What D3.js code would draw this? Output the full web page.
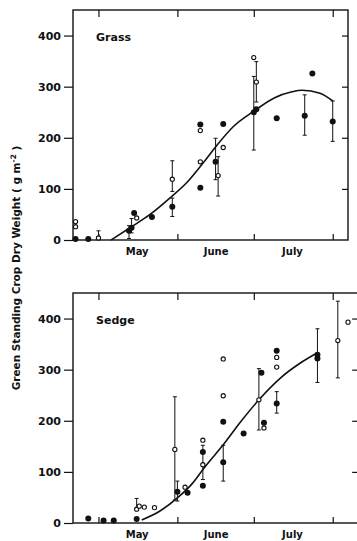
<!DOCTYPE html>
<html>
<head>
<meta charset="utf-8">
<script src="https://cdn.jsdelivr.net/npm/d3@7"></script>
<style>
  body { margin: 0; background: #fff; }
  svg text { font-family: "DejaVu Sans", sans-serif; font-weight: bold; fill: #111; }
</style>
</head>
<body>
<div id="chart"></div>
<script>
// ---------- data (dates as MM-DD, values g m-2) ----------
const yTicks = [0, 100, 200, 300, 400];
const monthBounds = ['05-01', '06-01', '07-01', '08-01'];
const monthLabels = ['May', 'June', 'July'];
const monthMids = ['05-16', '06-16', '07-16'];

const grassFilled = [
  { d: '04-22', v: 2 }, { d: '04-27', v: 2 },
  { d: '05-13', v: 18, lo: 3, hi: 28 }, { d: '05-14', v: 24, lo: 14, hi: 42 },
  { d: '05-15', v: 53 }, { d: '05-22', v: 45 },
  { d: '05-30', v: 65, lo: 46, hi: 82 },
  { d: '06-10', v: 102 }, { d: '06-10', v: 226 },
  { d: '06-16', v: 153, lo: 118, hi: 199 }, { d: '06-19', v: 227 },
  { d: '07-01', v: 250, lo: 176, hi: 320 }, { d: '07-02', v: 256 },
  { d: '07-10', v: 238 },
  { d: '07-21', v: 243, lo: 205, hi: 284 }, { d: '07-24', v: 326 },
  { d: '08-01', v: 232, lo: 193, hi: 272 },
];
const grassOpen = [
  { d: '04-22', v: 36 }, { d: '04-22', v: 26 },
  { d: '05-01', v: 4, lo: 4, hi: 18 }, { d: '05-16', v: 43 },
  { d: '05-30', v: 119, lo: 95, hi: 155 },
  { d: '06-10', v: 153 }, { d: '06-10', v: 214 },
  { d: '06-17', v: 126, lo: 86, hi: 163 }, { d: '06-19', v: 181 },
  { d: '07-01', v: 357 }, { d: '07-02', v: 309, lo: 270, hi: 349 },
];
const grassCurve = [
  { d: '05-06', v: 0 }, { d: '05-14', v: 26 }, { d: '05-21', v: 49 },
  { d: '05-29', v: 82 }, { d: '06-05', v: 114 }, { d: '06-11', v: 150 },
  { d: '06-16', v: 182 }, { d: '06-23', v: 222 }, { d: '07-01', v: 252 },
  { d: '07-09', v: 278 }, { d: '07-16', v: 290 }, { d: '07-20', v: 293 },
  { d: '07-27', v: 287 }, { d: '08-01', v: 272 },
];

const sedgeFilled = [
  { d: '04-27', v: 9 }, { d: '05-03', v: 5 }, { d: '05-07', v: 5 },
  { d: '05-16', v: 8 },
  { d: '06-01', v: 61, lo: 43, hi: 82 }, { d: '06-05', v: 59 },
  { d: '06-11', v: 139, lo: 114, hi: 152 }, { d: '06-11', v: 73 },
  { d: '06-19', v: 119, lo: 82, hi: 152 }, { d: '06-19', v: 198 },
  { d: '06-27', v: 175 }, { d: '07-04', v: 294 }, { d: '07-05', v: 196 },
  { d: '07-10', v: 234, lo: 215, hi: 257 }, { d: '07-10', v: 337 },
  { d: '07-26', v: 329, lo: 275, hi: 380 }, { d: '07-26', v: 322 },
];
const sedgeOpen = [
  { d: '05-16', v: 27, lo: 27, hi: 48 }, { d: '05-17', v: 33 },
  { d: '05-19', v: 31 }, { d: '05-23', v: 30 },
  { d: '05-31', v: 144, lo: 45, hi: 247 }, { d: '06-04', v: 70 },
  { d: '06-11', v: 162 }, { d: '06-11', v: 114, lo: 85, hi: 114 },
  { d: '06-19', v: 321 }, { d: '06-19', v: 249 },
  { d: '07-03', v: 241, lo: 182, hi: 302 }, { d: '07-05', v: 186 },
  { d: '07-10', v: 324 }, { d: '07-10', v: 305 },
  { d: '08-03', v: 357, lo: 284, hi: 434 }, { d: '08-07', v: 393 },
];
const sedgeCurve = [
  { d: '05-18', v: 6 }, { d: '05-25', v: 23 }, { d: '06-01', v: 49 },
  { d: '06-07', v: 78 }, { d: '06-12', v: 111 }, { d: '06-19', v: 153 },
  { d: '06-26', v: 199 }, { d: '07-03', v: 241 }, { d: '07-12', v: 286 },
  { d: '07-19', v: 312 }, { d: '07-26', v: 333 },
];

// ---------- chart ----------
const W = 357, H = 541;
const parse = d3.timeParse('%m-%d');

const svg = d3.select('#chart').append('svg')
  .attr('width', W).attr('height', H);

const xTop = d3.scaleTime()
  .domain([parse('04-21'), parse('08-07')])
  .range([73, 348]);

function drawPanel(cfg) {
  const { top, bottom, xScale, name, filled, open, curve } = cfg;
  const [x0, x1] = xScale.range();
  const y = d3.scaleLinear().domain([0, 450]).range([bottom, top]);
  const g = svg.append('g');

  // left axis with labels, ticks outward
  const left = g.append('g').attr('transform', `translate(${x0},0)`)
    .call(d3.axisLeft(y).tickValues(yTicks).tickSize(9).tickPadding(3));
  left.select('.domain').remove();
  left.selectAll('line').attr('stroke', '#111').attr('stroke-width', 1.3);
  left.selectAll('text').style('font-size', '11px');

  // right ticks, inward
  const right = g.append('g').attr('transform', `translate(${x1},0)`)
    .call(d3.axisLeft(y).tickValues(yTicks.slice(1)).tickSize(-6).tickFormat(''));
  right.select('.domain').remove();
  right.selectAll('line').attr('stroke', '#111').attr('stroke-width', 1.2)
    .attr('x2', -6);

  // top/bottom month boundary ticks, inward
  const bounds = monthBounds.map(parse);
  const tTop = g.append('g').attr('transform', `translate(0,${top})`)
    .call(d3.axisBottom(xScale).tickValues(bounds).tickSize(7).tickFormat(''));
  tTop.select('.domain').remove();
  const tBot = g.append('g').attr('transform', `translate(0,${bottom})`)
    .call(d3.axisTop(xScale).tickValues(bounds).tickSize(6).tickFormat(''));
  tBot.select('.domain').remove();
  g.selectAll('.tick line').attr('stroke', '#111').attr('stroke-width', 1.2);

  // month labels
  const mAxis = g.append('g').attr('transform', `translate(0,${bottom})`)
    .call(d3.axisBottom(xScale).tickValues(monthMids.map(parse)).tickSize(0)
      .tickPadding(8).tickFormat((d, i) => monthLabels[i]));
  mAxis.select('.domain').remove();
  mAxis.selectAll('text').style('font-size', '10px');

  // frame
  g.append('rect')
    .attr('x', x0).attr('y', top)
    .attr('width', x1 - x0).attr('height', bottom - top)
    .attr('fill', 'none').attr('stroke', '#111').attr('stroke-width', 1.4);

  g.append('text').attr('x', x0 + 23).attr('y', top + 31)
    .style('font-size', '11px').text(name);

  // fitted curve
  const line = d3.line()
    .x((d) => xScale(parse(d.d)))
    .y((d) => y(d.v))
    .curve(d3.curveMonotoneX);
  g.append('path').datum(curve)
    .attr('d', line).attr('fill', 'none')
    .attr('stroke', '#111').attr('stroke-width', 1.6);

  // error bars
  const bars = filled.concat(open).filter((d) => d.lo != null);
  const eb = g.append('g').attr('stroke', '#111').attr('stroke-width', 1);
  bars.forEach((d) => {
    const cx = xScale(parse(d.d));
    eb.append('line').attr('x1', cx).attr('x2', cx)
      .attr('y1', y(d.lo)).attr('y2', y(d.hi));
    [d.lo, d.hi].forEach((v) => {
      if (v === d.v) return;
      eb.append('line').attr('x1', cx - 2).attr('x2', cx + 2)
        .attr('y1', y(v)).attr('y2', y(v));
    });
  });

  g.append('g').selectAll('circle').data(filled).join('circle')
    .attr('cx', (d) => xScale(parse(d.d)))
    .attr('cy', (d) => y(d.v))
    .attr('r', 3).attr('fill', '#111');

  g.append('g').selectAll('circle').data(open).join('circle')
    .attr('cx', (d) => xScale(parse(d.d)))
    .attr('cy', (d) => y(d.v))
    .attr('r', 2.1).attr('fill', '#fff')
    .attr('stroke', '#111').attr('stroke-width', 1.1);
}

drawPanel({
  top: 10, bottom: 240, xScale: xTop, name: 'Grass',
  filled: grassFilled, open: grassOpen, curve: grassCurve,
});

const xBot = d3.scaleTime()
  .domain([parse('04-21'), parse('08-11')])
  .range([73, xTop(parse('08-11'))]);

drawPanel({
  top: 293, bottom: 523, xScale: xBot, name: 'Sedge',
  filled: sedgeFilled, open: sedgeOpen, curve: sedgeCurve,
});

// shared y label
const yl = svg.append('text')
  .attr('transform', 'translate(20,268) rotate(-90)')
  .attr('text-anchor', 'middle')
  .style('font-size', '10.5px');
yl.append('tspan').text('Green Standing Crop   Dry Weight  ( g m');
yl.append('tspan').attr('dy', -4).style('font-size', '7.5px').text('-2');
yl.append('tspan').attr('dy', 4).text(' )');
</script>
</body>
</html>
